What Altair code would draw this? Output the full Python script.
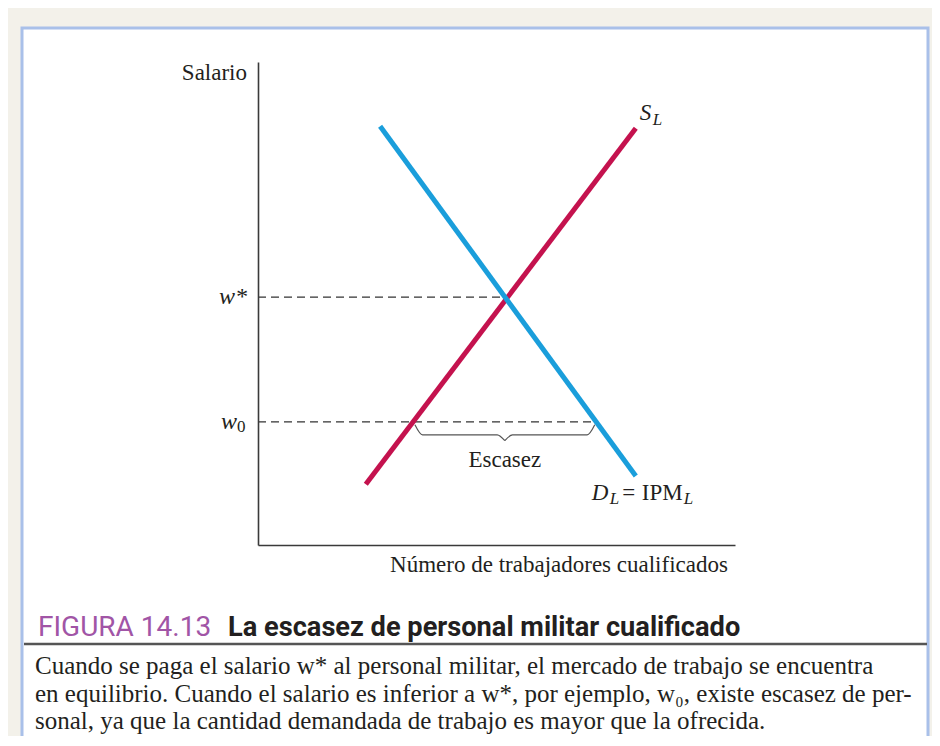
import altair as alt
import pandas as pd

# ---- data (economic units: quantity of workers, wage) ----
supply_q = [22.6, 79.2]
supply_w = [12.6, 86.3]
demand_q = [25.6, 79.2]
demand_w = [86.7, 14.3]
w_star = 51.3
q_star = 52.2
w_0 = 25.5
q_supplied_w0 = 32.5
q_demanded_w0 = 71.0

y_title = "Salario"
x_title = "Número de trabajadores cualificados"
shortage_label = "Escasez"
fig_number = "FIGURA 14.13"
fig_title = "La escasez de personal militar cualificado"
caption_lines = [
    "Cuando se paga el salario w* al personal militar, el mercado de trabajo se encuentra",
    "en equilibrio. Cuando el salario es inferior a w*, por ejemplo, w₀, existe escasez de per-",
    "sonal, ya que la cantidad demandada de trabajo es mayor que la ofrecida.",
]

SERIF = "Liberation Serif"
SANS = "Roboto, Open Sans"
INK = "#231f20"

one = pd.DataFrame({"k": [0]})
xs = alt.Scale(domain=[0, 100], nice=False, zero=False)
ys = alt.Scale(domain=[0, 100], nice=False, zero=False)
noaxis = dict(domain=True, ticks=False, labels=False, grid=False, title=None,
              domainColor="#3a3a3a", domainWidth=1.6, zindex=1)


def X(f="q"):
    return alt.X(f"{f}:Q", scale=xs, axis=alt.Axis(**noaxis))


def Y(f="w"):
    return alt.Y(f"{f}:Q", scale=ys, axis=alt.Axis(**noaxis))


panel = alt.Chart(one).mark_rect(fill="white", stroke="#a9c0e9", strokeWidth=3).encode(
    x=alt.value(-236), x2=alt.value(670), y=alt.value(-34), y2=alt.value(720))

rule = alt.Chart(one).mark_rule(color="#555555", strokeWidth=2.5).encode(
    x=alt.value(-234), x2=alt.value(669), y=alt.value(582))

dash_df = pd.DataFrame({"w": [w_star, w_0], "q0": [0, 0], "q_end": [q_star, q_demanded_w0]})
dashes = alt.Chart(dash_df).mark_rule(color="#333333", strokeWidth=1.3, strokeDash=[8, 5]).encode(
    x=X("q0"), x2="q_end", y=Y())

sup_df = pd.DataFrame({"q": supply_q, "w": supply_w})
supply = alt.Chart(sup_df).mark_line(color="#c4124e", strokeWidth=5, strokeCap="butt").encode(
    x=X(), y=Y())

dem_df = pd.DataFrame({"q": demand_q, "w": demand_w})
demand = alt.Chart(dem_df).mark_line(color="#1a9edb", strokeWidth=5, strokeCap="butt").encode(
    x=X(), y=Y())

# curly brace under the shortage segment
a = q_supplied_w0 + 0.4
b = q_demanded_w0 - 0.4
c = (q_supplied_w0 + q_demanded_w0) / 2
top, mid, tip = w_0 - 0.6, w_0 - 2.7, w_0 - 3.9
brace_df = pd.DataFrame({
    "q": [a, a + 1.6, c - 1.6, c, c, c + 1.6, b - 1.6, b],
    "w": [top, mid, mid, tip, tip, mid, mid, top],
    "half": [0, 0, 0, 0, 1, 1, 1, 1],
})
brace = alt.Chart(brace_df).mark_line(color="#555555", strokeWidth=1.2, interpolate="monotone").encode(
    x=X(), y=Y(), detail="half:N")


def txt(text, x=None, y=None, data=None, size=20, align="left", style="normal", font=SERIF,
        color=INK, dx=0, dy=0, weight="normal", baseline="middle", **kw):
    d = data if data is not None else one
    return alt.Chart(d).mark_text(text=text, align=align, baseline=baseline, font=font,
                                  fontSize=size, fontStyle=style, fontWeight=weight,
                                  color=color, dx=dx, dy=dy, **kw).encode(x=x, y=y)


pt_wstar = pd.DataFrame({"w": [w_star]})
pt_w0 = pd.DataFrame({"w": [w_0]})
pt_s = pd.DataFrame({"q": [supply_q[1]], "w": [supply_w[1]]})
pt_d = pd.DataFrame({"q": [demand_q[1]], "w": [demand_w[1]]})
pt_short = pd.DataFrame({"q": [c], "w": [w_0]})

labels = [
    txt(y_title, alt.value(-11), alt.value(11), size=23, align="right"),
    txt("w*", alt.value(-11), Y(), pt_wstar, size=24, align="right", style="italic"),
    txt("w", alt.value(-21), Y(), pt_w0, size=24, align="right", style="italic"),
    txt("0", alt.value(-21), Y(), pt_w0, size=17, dy=5),
    txt("S", X(), Y(), pt_s, size=23, style="italic", dx=4, dy=-15),
    txt("L", X(), Y(), pt_s, size=17, style="italic", dx=17, dy=-8),
    txt("D", X(), Y(), pt_d, size=23, style="italic", dx=-44, dy=17),
    txt("L", X(), Y(), pt_d, size=17, style="italic", dx=-26, dy=23),
    txt("=", X(), Y(), pt_d, size=23, align="center", dx=-7, dy=17),
    txt("IPM", X(), Y(), pt_d, size=23, dx=6, dy=17),
    txt("L", X(), Y(), pt_d, size=17, style="italic", dx=48, dy=23),
    txt(shortage_label, X(), Y(), pt_short, size=23, align="center", dy=38),
    txt(x_title, alt.value(301), alt.value(503), size=23, align="center"),
    txt(fig_number, alt.value(-220), alt.value(574), size=28, font=SANS, color="#a155a6",
        baseline="alphabetic"),
    txt(fig_title, alt.value(-30), alt.value(574), size=27.2, font=SANS, color=INK,
        weight="bold", baseline="alphabetic"),
    txt(caption_lines, alt.value(-223), alt.value(612), size=25, baseline="alphabetic",
        lineHeight=27.5),
]

chart = alt.layer(panel, rule, dashes, supply, demand, brace, *labels).properties(
    width=477, height=483,
    padding={"left": 250, "top": 54, "right": 197, "bottom": 191},
    autosize=alt.AutoSizeParams(type="none"),
    background="#f3f1ea",
).configure_view(stroke=None)

chart.save("out.html", embed_options={"renderer": "svg", "actions": False})
